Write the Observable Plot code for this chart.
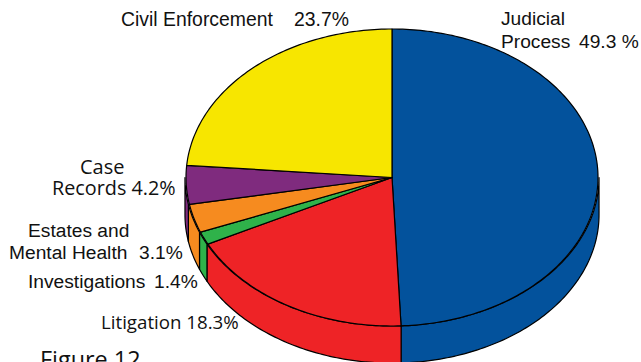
<!DOCTYPE html>
<html>
<head>
<meta charset="utf-8">
<script src="https://cdn.jsdelivr.net/npm/d3@7"></script>
<script src="https://cdn.jsdelivr.net/npm/@observablehq/plot@0.6"></script>
<style>
  html, body { margin: 0; padding: 0; background: #fff; }
  svg { display: block; }
</style>
</head>
<body>
<div id="chart"></div>
<script>
// Caseload shares, clockwise from twelve o'clock.
const categories = ["Judicial Process", "Litigation", "Investigations", "Estates and Mental Health", "Case Records", "Civil Enforcement"];
const shares = [49.3, 18.3, 1.4, 3.1, 4.2, 23.7];
const colors = ["#03529c", "#ee2326", "#2fb24a", "#f68b1f", "#7f2b7e", "#f7e600"];

// Thickness of the disc, in units of the vertical radius, and the slight
// outward flare of its wall.
const depth = 0.25;
const wallFlare = 1.005;

// Text rows: [text, left edge, baseline, font, size].
const helvetica = "Liberation Sans, Arial, sans-serif";
const humanist = "Open Sans, Noto Sans, sans-serif";
const textRows = [
  ["Civil Enforcement", 120.5, 25, helvetica, 19.4],
  ["23.7%", 293.5, 25, helvetica, 19.4],
  ["Judicial", 500.5, 24, helvetica, 19.2],
  ["Process", 500.5, 47, helvetica, 19.2],
  ["49.3 %", 578.5, 47, helvetica, 19.2],
  ["Case", 79.5, 173, humanist, 20],
  ["Records 4.2%", 51.5, 194, humanist, 19.8],
  ["Estates and", 27.5, 236, helvetica, 19.2],
  ["Mental Health", 8.5, 258, helvetica, 19.2],
  ["3.1%", 138.5, 258, helvetica, 19.2],
  ["Investigations", 27.5, 287, helvetica, 19.2],
  ["1.4%", 153.5, 287, helvetica, 19.2],
  ["Litigation 18.3%", 100.5, 328, humanist, 18.7],
  ["Figure 12", 39.5, 367, humanist, 23.4]
];

// Turn shares into start and end angles, in degrees clockwise from the top.
let running = 0;
const slices = categories.map((name, i) => {
  const start = running * 3.6;
  running += shares[i];
  return {name, color: colors[i], start, end: running * 3.6};
});

const rad = (a) => (a * Math.PI) / 180;
const rim = (a, drop = 0, flare = 1) => ({x: Math.sin(rad(a)) * flare, y: Math.cos(rad(a)) - drop});
const arc = (from, to, drop = 0, flare = 1) => {
  const n = Math.max(2, Math.ceil(Math.abs(to - from)));
  return d3.range(n + 1).map((k) => rim(from + ((to - from) * k) / n, drop, flare));
};

// Flat top of a slice: centre plus its arc.
const topFace = (s) => [{x: 0, y: 0}, ...arc(s.start, s.end)];

// Outer wall of a slice: only the front half of the disc (90° to 270°) shows.
const wall = (s) => {
  const from = Math.max(s.start, 90);
  const to = Math.min(s.end, 270);
  return to > from ? [...arc(from, to, 0, wallFlare), ...arc(to, from, depth, wallFlare)] : null;
};

const closed = (points, fill) =>
  Plot.line(points, {x: "x", y: "y", fill, stroke: "#000", strokeWidth: 1.2, strokeLinejoin: "round", curve: "linear-closed"});

const chart = Plot.plot({
  width: 641,
  height: 362,
  margin: 0,
  x: {domain: [-1, 1], range: [185.5, 597.5], axis: null},
  y: {domain: [-1, 1], range: [325.5, 28.5], axis: null},
  marks: [
    ...slices.filter(wall).map((s) => closed(wall(s), s.color)),
    ...slices.map((s) => closed(topFace(s), s.color)),
    ...textRows.map(([text, left, baseline, font, size]) =>
      Plot.text([text], {
        frameAnchor: "top-left",
        dx: left,
        dy: baseline,
        text: (d) => d,
        textAnchor: "start",
        lineAnchor: "bottom",
        fontFamily: font,
        fontSize: size,
        fill: "#111"
      })
    )
  ]
});
document.getElementById("chart").append(chart);
</script>
</body>
</html>
